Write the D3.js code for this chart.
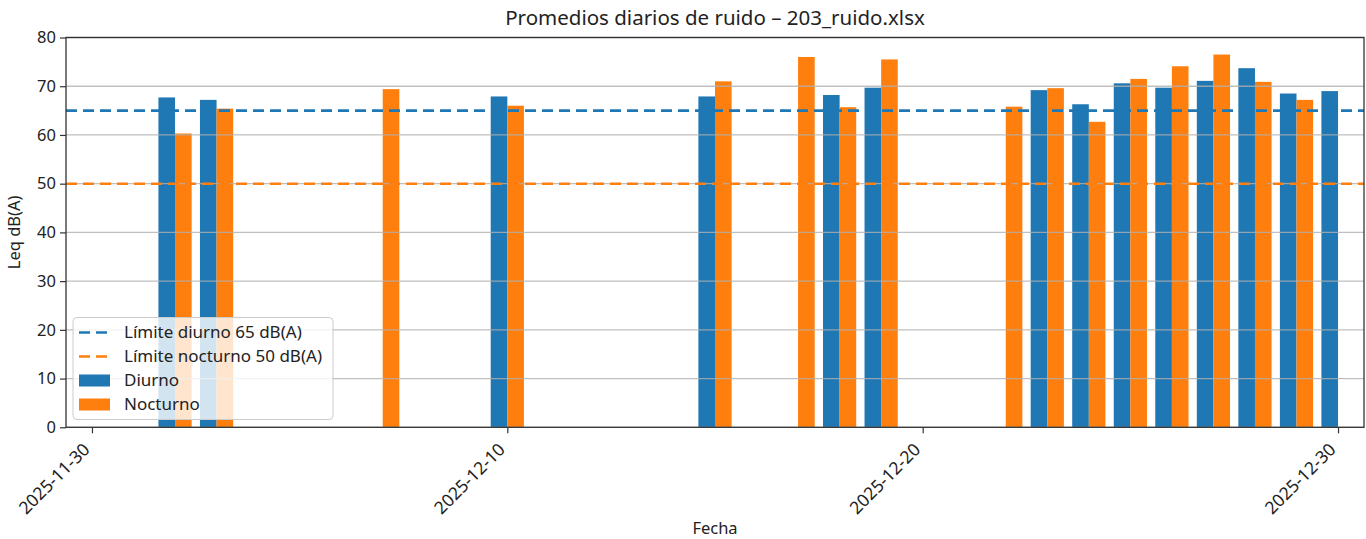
<!DOCTYPE html>
<html lang="es">
<head>
<meta charset="utf-8">
<script src="https://d3js.org/d3.v7.min.js"></script>
<style>
  body { margin: 0; background: #fff; }
  svg { font-family: "Noto Sans", sans-serif; }
</style>
</head>
<body>
<div id="chart"></div>
<script>
// dates (day of Dec 2025) and daily averages
var diurnoDays = [2, 3, 10, 15, 18, 19, 23, 24, 25, 26, 27, 28, 29, 30];
var diurnoVals = [67.7, 67.2, 67.9, 67.9, 68.2, 69.7, 69.2, 66.3, 70.6, 69.7, 71.1, 73.7, 68.5, 69.0];
var nocturnoDays = [2, 3, 7, 10, 15, 17, 18, 19, 22, 23, 24, 25, 26, 27, 28, 29];
var nocturnoVals = [60.3, 65.4, 69.4, 66.0, 71.0, 76.0, 65.7, 75.5, 65.8, 69.6, 62.7, 71.5, 74.1, 76.5, 70.9, 67.2];
var yTicks = [0, 10, 20, 30, 40, 50, 60, 70, 80];
var xTickDates = ["2025-11-30", "2025-12-10", "2025-12-20", "2025-12-30"];
var limits = [
  {label: "Límite diurno 65 dB(A)", value: 65, color: "#1f77b4"},
  {label: "Límite nocturno 50 dB(A)", value: 50, color: "#ff7f0e"}
];

var W = 1366, H = 539;
var margin = {top: 37.5, right: 2, bottom: 111.7, left: 66};
var width = W - margin.left - margin.right,
    height = H - margin.top - margin.bottom;

var svg = d3.select("#chart").append("svg")
    .attr("width", W).attr("height", H);
var g = svg.append("g")
    .attr("transform", "translate(" + margin.left + "," + margin.top + ")");

var day = function(d) { return new Date(2025, 11, d); };
var parse = d3.timeParse("%Y-%m-%d");

var x = d3.scaleTime()
    .domain([new Date(2025, 10, 29, 9), new Date(2025, 11, 30, 15)])
    .range([0, width]);
var y = d3.scaleLinear().domain([0, 80]).range([height, 0]);

var barW = x(new Date(2025, 11, 1, 9, 36)) - x(new Date(2025, 11, 1)); // 0.4 day

// bars
g.append("g").selectAll("rect")
  .data(diurnoDays.map(function(d, i) { return {d: d, v: diurnoVals[i]}; }))
  .enter().append("rect")
    .attr("x", function(d) { return x(day(d.d)) - barW; })
    .attr("y", function(d) { return y(d.v); })
    .attr("width", barW)
    .attr("height", function(d) { return height - y(d.v); })
    .attr("fill", "#1f77b4");

g.append("g").selectAll("rect")
  .data(nocturnoDays.map(function(d, i) { return {d: d, v: nocturnoVals[i]}; }))
  .enter().append("rect")
    .attr("x", function(d) { return x(day(d.d)); })
    .attr("y", function(d) { return y(d.v); })
    .attr("width", barW)
    .attr("height", function(d) { return height - y(d.v); })
    .attr("fill", "#ff7f0e");

// grid on top of bars
g.append("g").selectAll("line")
  .data(yTicks).enter().append("line")
    .attr("x1", 0).attr("x2", width)
    .attr("y1", function(d) { return y(d); })
    .attr("y2", function(d) { return y(d); })
    .attr("stroke", "#b0b0b0").attr("stroke-opacity", 0.8)
    .attr("stroke-width", 1.3);

// limit lines
g.append("g").selectAll("line")
  .data(limits).enter().append("line")
    .attr("x1", 0).attr("x2", width)
    .attr("y1", function(d) { return y(d.value); })
    .attr("y2", function(d) { return y(d.value); })
    .attr("stroke", function(d) { return d.color; })
    .attr("stroke-width", 2.6)
    .attr("stroke-dasharray", "11,6");

// axes
var yAxis = g.append("g")
  .call(d3.axisLeft(y).tickValues(yTicks).tickSize(6).tickPadding(4));
var xAxis = g.append("g")
  .attr("transform", "translate(0," + height + ")")
  .call(d3.axisBottom(x).tickValues(xTickDates.map(parse))
        .tickFormat(d3.timeFormat("%Y-%m-%d")).tickSize(6).tickPadding(4));
[xAxis, yAxis].forEach(function(a) {
  a.select(".domain").remove();
  a.selectAll("line").attr("stroke", "#333").attr("stroke-width", 1.2);
  a.selectAll("text").attr("fill", "#222").style("font-size", "16.5px")
    .style("font-family", "Noto Sans, sans-serif");
});
xAxis.selectAll("text")
  .style("font-size", "17.5px")
  .attr("text-anchor", "end")
  .attr("y", 0)
  .attr("dy", "0.35em")
  .attr("transform", "translate(-6,19) rotate(-45)");

// frame
g.append("rect")
  .attr("width", width).attr("height", height)
  .attr("fill", "none").attr("stroke", "#333").attr("stroke-width", 1.3);

// legend
var leg = g.append("g").attr("transform", "translate(7,280)");
leg.append("rect")
  .attr("width", 260).attr("height", 102).attr("rx", 4)
  .attr("fill", "#fff").attr("fill-opacity", 0.8)
  .attr("stroke", "#cccccc").attr("stroke-width", 1);
var items = [
  {label: limits[0].label, color: limits[0].color, type: "line"},
  {label: limits[1].label, color: limits[1].color, type: "line"},
  {label: "Diurno", color: "#1f77b4", type: "rect"},
  {label: "Nocturno", color: "#ff7f0e", type: "rect"}
];
items.forEach(function(it, i) {
  var cy = 15 + i * 24;
  if (it.type === "line") {
    leg.append("line").attr("x1", 6).attr("x2", 36)
      .attr("y1", cy).attr("y2", cy)
      .attr("stroke", it.color).attr("stroke-width", 2.6)
      .attr("stroke-dasharray", "11,6");
  } else {
    leg.append("rect").attr("x", 6).attr("y", cy - 6)
      .attr("width", 31).attr("height", 12).attr("fill", it.color);
  }
  leg.append("text").attr("x", 51).attr("y", cy).attr("dy", "0.35em")
    .style("font-size", "17px").attr("fill", "#222").text(it.label);
});

// titles
svg.append("text")
  .attr("x", margin.left + width / 2).attr("y", 25)
  .attr("text-anchor", "middle").style("font-size", "20.5px").attr("fill", "#222")
  .text("Promedios diarios de ruido – 203_ruido.xlsx");
svg.append("text")
  .attr("x", margin.left + width / 2).attr("y", 534)
  .attr("text-anchor", "middle").style("font-size", "16.5px").attr("fill", "#222")
  .text("Fecha");
svg.append("text")
  .attr("transform", "translate(20," + (margin.top + height / 2) + ") rotate(-90)")
  .attr("text-anchor", "middle").style("font-size", "16.5px").attr("fill", "#222")
  .text("Leq dB(A)");
</script>
</body>
</html>
